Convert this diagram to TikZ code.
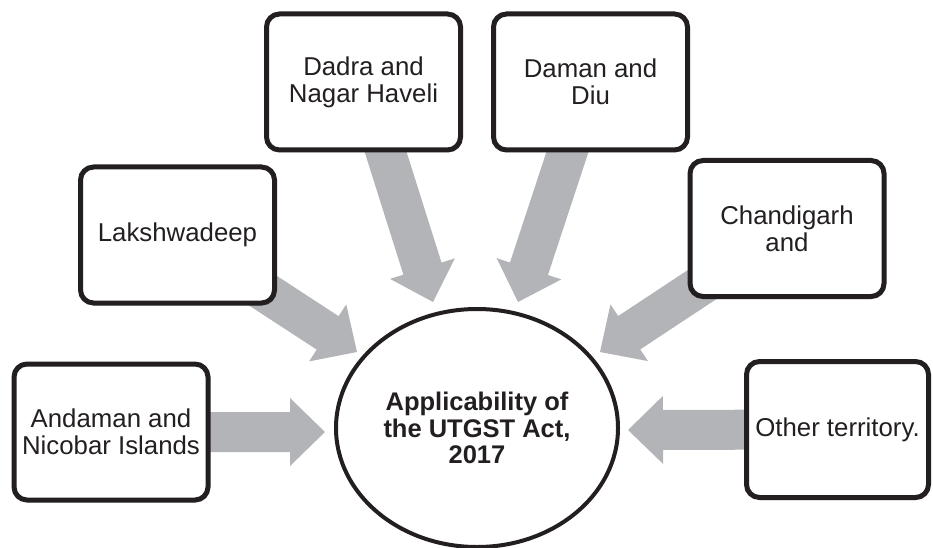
\documentclass[tikz,border=0pt]{standalone}
\usepackage{fontspec}
\setmainfont{Liberation Sans}
\usetikzlibrary{calc,shapes.geometric,shadows,backgrounds}
\definecolor{ink}{RGB}{35,31,32}
\definecolor{feedgray}{RGB}{178,180,184}
\tikzset{
    territory/.style={draw=ink, line width=5pt, rounded corners=13pt, fill=white,
                      minimum width=194pt, minimum height=136pt, inner sep=0pt,
                      align=center, text=ink,
                      font=\fontsize{25.8}{27}\selectfont,
                      drop shadow={shadow xshift=1.5pt, shadow yshift=-2.5pt, opacity=0.25}},
    hub/.style={ellipse, draw=ink, line width=4pt, fill=white,
                minimum width=282pt, minimum height=238pt, inner sep=0pt,
                align=center, text=ink,
                font=\bfseries\fontsize{25.5}{26.5}\selectfont},
    feed/.style={fill=feedgray},
}
\newcommand{\feedarrow}[2]{
    \coordinate (hb) at ($(#2)!35pt!(#1)$);
    \fill[feed] ($(#1)!20pt!90:(#2)$) -- ($(hb)!20pt!90:(#2)$)
        -- ($(hb)!34pt!90:(#2)$) -- (#2) -- ($(hb)!34pt!-90:(#2)$)
        -- ($(hb)!20pt!-90:(#2)$) -- ($(#1)!20pt!-90:(#2)$) -- cycle;
}

\begin{document}
\begin{tikzpicture}[x=1pt, y=-1pt]
    \useasboundingbox (0,0) rectangle (933,548);

    \node[hub] (utgst) at (477,428) {Applicability of\\the UTGST Act,\\2017};

    \node[territory] (andaman) at (111,432) {Andaman and\\Nicobar Islands};
    \node[territory] (lakshwadeep) at (177.5,235) {Lakshwadeep};
    \node[territory] (dadra) at (363.5,82) {Dadra and\\Nagar Haveli};
    \node[territory] (daman) at (590.5,82) {Daman and\\Diu};
    \node[territory] (chandigarh) at (787,228.5) {Chandigarh\\and};
    \node[territory, minimum width=182pt] (other) at (837.5,429.5) {Other territory.};

    % arrow tips, just short of the hub
    \coordinate (tipandaman) at (325,432);
    \coordinate (tiplakshwadeep) at (357,352);
    \coordinate (tipdadra) at (433,302);
    \coordinate (tipdaman) at (518,302);
    \coordinate (tipchandigarh) at (600,352);
    \coordinate (tipother) at (628,430);

    \begin{pgfonlayer}{background}
        \feedarrow{andaman}{tipandaman}
        \feedarrow{lakshwadeep}{tiplakshwadeep}
        \feedarrow{dadra}{tipdadra}
        \feedarrow{daman}{tipdaman}
        \feedarrow{chandigarh}{tipchandigarh}
        \feedarrow{other}{tipother}
    \end{pgfonlayer}
\end{tikzpicture}
\end{document}
